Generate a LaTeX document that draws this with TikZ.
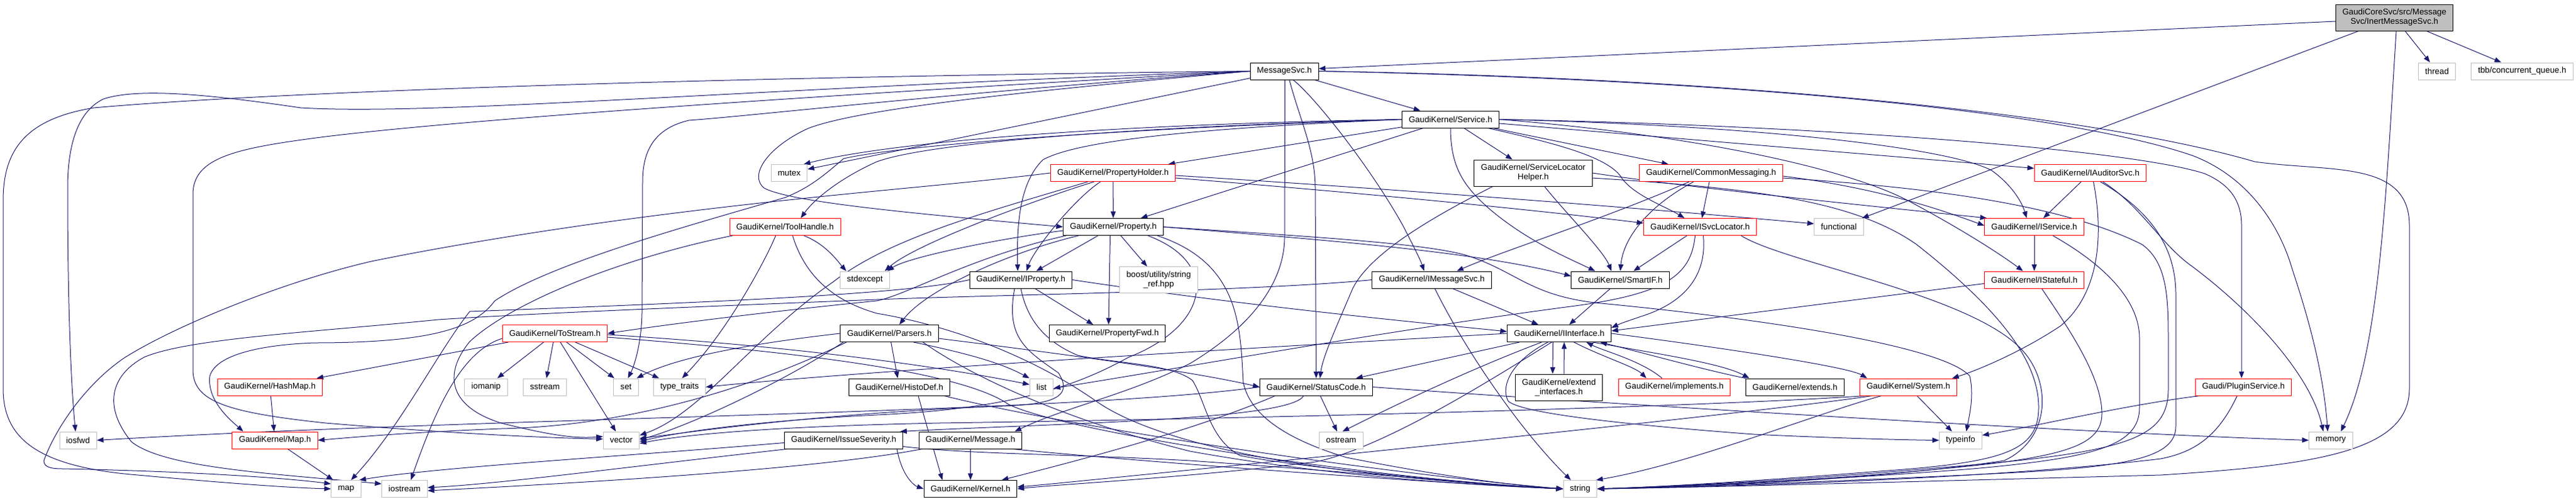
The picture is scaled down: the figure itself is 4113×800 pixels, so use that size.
\documentclass[tikz,border=0pt]{standalone}
\usepackage{fontspec}
\setmainfont{Liberation Sans}
\usetikzlibrary{arrows.meta,calc}
\definecolor{edgec}{HTML}{191970}
\definecolor{grayb}{HTML}{BFBFBF}
\pgfdeclarelayer{bg}
\pgfsetlayers{bg,main}
\begin{document}
\begin{tikzpicture}[x=0.75pt,y=-0.75pt,
  bx/.style={line width=0.75pt, fill=white, font=\fontsize{10}{11.25}\selectfont, inner xsep=8pt, inner ysep=1pt, minimum height=20.25pt, align=center},
  kbox/.style={bx,draw=black},
  rbox/.style={bx,draw=red},
  gbox/.style={bx,draw=grayb},
  rootbox/.style={bx,draw=black,fill=grayb},
  tall/.style={minimum height=31.5pt},
  e/.style={draw=edgec, line width=0.75pt, -{Triangle[length=8pt,width=6pt]}}]
\useasboundingbox (0,0) rectangle (4113,800);

\node[rootbox,tall] (I0) at (3823,28) {GaudiCoreSvc/src/Message\\Svc/InertMessageSvc.h};
\node[gbox] (thread) at (3891,113.5) {thread};
\node[gbox] (tbb) at (4027,113.5) {tbb/concurrent\_queue.h};
\node[kbox] (MS) at (2050.7,113.5) {MessageSvc.h};
\node[kbox] (SV) at (2316,190.5) {GaudiKernel/Service.h};
\node[rbox] (PH) at (1777,276) {GaudiKernel/PropertyHolder.h};
\node[kbox,tall] (SLH) at (2448,276) {GaudiKernel/ServiceLocator\\Helper.h};
\node[rbox] (CM) at (2732,276) {GaudiKernel/CommonMessaging.h};
\node[rbox] (IAS) at (3337.5,276) {GaudiKernel/IAuditorSvc.h};
\node[gbox] (mutex) at (1260,276) {mutex};
\node[rbox] (TH) at (1253.5,362) {GaudiKernel/ToolHandle.h};
\node[kbox] (PR) at (1777.5,362) {GaudiKernel/Property.h};
\node[rbox] (ISL) at (2714.5,362) {GaudiKernel/ISvcLocator.h};
\node[gbox] (functional) at (2936,362) {functional};
\node[rbox] (IS) at (3248,362) {GaudiKernel/IService.h};
\node[gbox] (stdexcept) at (1381,446.5) {stdexcept};
\node[kbox] (IP) at (1630,446.5) {GaudiKernel/IProperty.h};
\node[gbox,tall] (boost) at (1850,446.7) {boost/utility/string\\\_ref.hpp};
\node[kbox] (IMS) at (2286,446.5) {GaudiKernel/IMessageSvc.h};
\node[kbox] (SI) at (2587,446.5) {GaudiKernel/SmartIF.h};
\node[rbox] (IST) at (3248,446.5) {GaudiKernel/IStateful.h};
\node[rbox] (ToStream) at (886,532) {GaudiKernel/ToStream.h};
\node[kbox] (Parsers) at (1420,532) {GaudiKernel/Parsers.h};
\node[kbox] (PFwd) at (1768,532) {GaudiKernel/PropertyFwd.h};
\node[kbox] (II) at (2489.5,532) {GaudiKernel/IInterface.h};
\node[rbox] (HashMap) at (431,617.5) {GaudiKernel/HashMap.h};
\node[gbox] (iomanip) at (776,617.5) {iomanip};
\node[gbox] (sstream) at (870,617.5) {sstream};
\node[gbox] (set) at (999.5,617.5) {set};
\node[gbox] (typetraits) at (1085,617.5) {type\_traits};
\node[kbox] (HistoDef) at (1436,617.5) {GaudiKernel/HistoDef.h};
\node[gbox] (list) at (1663,617.5) {list};
\node[kbox] (SC) at (2101.5,617.5) {GaudiKernel/StatusCode.h};
\node[kbox,tall] (extI) at (2489,618) {GaudiKernel/extend\\\_interfaces.h};
\node[rbox] (impl) at (2673.5,617.5) {GaudiKernel/implements.h};
\node[kbox] (ext) at (2866,617.5) {GaudiKernel/extends.h};
\node[rbox] (System) at (3047,617.5) {GaudiKernel/System.h};
\node[rbox] (PS) at (3582,617.5) {Gaudi/PluginService.h};
\node[gbox] (iosfwd) at (124.6,702.5) {iosfwd};
\node[rbox] (MapH) at (439,702.5) {GaudiKernel/Map.h};
\node[gbox] (vector) at (992,702.5) {vector};
\node[kbox] (ISev) at (1347,702.5) {GaudiKernel/IssueSeverity.h};
\node[kbox] (Msg) at (1549.5,702.5) {GaudiKernel/Message.h};
\node[gbox] (ostream) at (2141.5,702.5) {ostream};
\node[gbox] (typeinfo) at (3130.5,702.5) {typeinfo};
\node[gbox] (memory) at (3721.5,702.5) {memory};
\node[gbox] (map) at (552.5,780) {map};
\node[gbox] (iostream) at (646,780) {iostream};
\node[kbox] (Kernel) at (1549.5,780) {GaudiKernel/Kernel.h};
\node[gbox] (string) at (2523,780) {string};

\begin{pgfonlayer}{bg}
% InertMessageSvc.h
\draw[e] ($(I0.west)+(0,6)$) -- ($(MS.east)+(0,-4)$);
\draw[e] (I0) -- (thread);
\draw[e] (I0) -- (tbb);
\draw[e] (I0) -- (functional);
\draw[e] ($(I0.south)+(3,0)$) .. controls (3810,300) and (3800,560) .. ($(memory.north)+(16,0)$);
% MessageSvc.h
\draw[e] (MS) -- (SV);
\draw[e] (MS.west) .. controls (1200,140) and (700,185) .. (480,172) .. controls (330,150) and (220,140) .. (165,158) .. controls (120,180) and (108,240) .. (108,300) .. controls (108,500) and (114,620) .. ($(iosfwd.north)+(-4,0)$);
\draw[e] (MS.west) .. controls (1000,125) and (400,150) .. (150,172) .. controls (40,190) and (5,240) .. (5,320) -- (5,620) .. controls (5,700) and (60,745) .. (220,758) .. controls (330,768) and (450,778) .. (map.west);
\draw[e] (MS.west) .. controls (1300,152) and (750,190) .. (520,218) .. controls (380,236) and (308,250) .. (308,310) -- (308,590) .. controls (308,640) and (360,658) .. (520,675) .. controls (700,690) and (850,698) .. ($(vector.west)+(0,-2)$);
\draw[e] (MS) -- (mutex);
\draw[e] (MS.west) .. controls (1500,150) and (1200,185) .. (1100,192) .. controls (1045,205) and (1026,240) .. (1026,290) -- (1025,500) .. controls (1024,550) and (1012,585) .. ($(set.north)+(3,0)$);
\draw[e] (MS.east) .. controls (2800,128) and (3300,180) .. (3500,248) .. controls (3590,282) and (3640,360) .. (3660,430) .. controls (3690,520) and (3710,600) .. ($(memory.north)+(-5,0)$);
\draw[e] (MS.east) .. controls (2800,125) and (3350,185) .. (3600,258) .. controls (3720,275) and (3847,255) .. (3847,360) -- (3847,620) .. controls (3847,720) and (3700,742) .. (3450,758) .. controls (3000,770) and (2700,778) .. (string.east);
\draw[e] ($(MS.south)+(14,0)$) .. controls (2100,155) and (2190,270) .. (2240,360) .. controls (2258,395) and (2268,415) .. ($(IMS.north)+(-12,0)$);
\draw[e] ($(MS.south)+(8,0)$) .. controls (2075,190) and (2100,240) .. (2100,300) -- (SC.north);
\draw[e] ($(MS.south)+(1,0)$) -- (2051,380) .. controls (2050,450) and (2000,520) .. (1900,580) .. controls (1800,630) and (1700,650) .. ($(Msg.north east)+(-12,0)$);
\draw[e] (MS.west) .. controls (1700,140) and (1380,170) .. (1290,205) .. controls (1225,235) and (1195,280) .. (1220,300) .. controls (1260,322) and (1450,340) .. (PR.west);
% Service.h
\draw[e] (SV) -- (PH);
\draw[e] (SV) -- (SLH);
\draw[e] (SV) -- (CM);
\draw[e] (SV) -- (IAS);
\draw[e] (SV.east) .. controls (2800,200) and (3110,235) .. (3180,272) .. controls (3212,295) and (3228,322) .. ($(IS.north)+(-12,0)$);
\draw[e] (SV.east) .. controls (2700,215) and (2950,268) .. (3050,322) .. controls (3140,370) and (3200,410) .. ($(IST.north)+(-18,0)$);
\draw[e] ($(SV.south)+(60,0)$) .. controls (2480,228) and (2570,250) .. (2590,285) .. controls (2610,312) and (2660,330) .. ($(ISL.north)+(-25,0)$);
\draw[e] (SV.south) .. controls (2316,270) and (2340,300) .. (2380,335) .. controls (2440,385) and (2500,410) .. ($(SI.north)+(-40,0)$);
\draw[e] (SV.west) .. controls (1900,205) and (1720,225) .. (1665,255) .. controls (1630,290) and (1623,350) .. ($(IP.north)+(-5,0)$);
\draw[e] (SV) -- (PR);
\draw[e] (SV.west) .. controls (1900,200) and (1500,222) .. (1400,258) .. controls (1340,285) and (1300,318) .. ($(TH.north)+(25,0)$);
\draw[e] (SV.west) .. controls (1700,200) and (1400,232) .. ($(mutex.north east)+(-6,0)$);
\draw[e] (SV.east) .. controls (2900,200) and (3400,238) .. (3520,277) .. controls (3562,295) and (3579,322) .. (3579,360) -- ($(PS.north)+(-3,0)$);
\draw[e] (SV.west) .. controls (1800,205) and (1450,230) .. (1347,253) .. controls (1310,285) and (1290,300) .. (1254,315) .. controls (1100,360) and (880,420) .. (790,480) .. controls (760,520) and (700,547) .. (502,547) .. controls (420,550) and (345,565) .. (335,600) .. controls (330,640) and (370,672) .. ($(MapH.north west)+(18,0)$);
% PropertyHolder.h
\draw[e] (PH) -- (PR);
\draw[e] ($(PH.south west)+(70,0)$) .. controls (1650,320) and (1460,390) .. ($(stdexcept.north east)+(-8,0)$);
\draw[e] ($(PH.south)+(-20,0)$) .. controls (1712,320) and (1650,400) .. ($(IP.north)+(9,0)$);
\draw[e] ($(PH.south west)+(60,0)$) .. controls (1570,340) and (1420,380) .. (1330,450) .. controls (1200,540) and (1120,660) .. ($(vector.east)+(0,-8)$);
\draw[e] ($(PH.east)+(0,4)$) .. controls (2200,300) and (2600,330) .. ($(functional.west)+(0,-5)$);
\draw[e] ($(PH.east)+(0,8)$) .. controls (2200,310) and (2450,335) .. ($(ISL.west)+(0,-6)$);
\draw[e] (PH.west) .. controls (1500,298) and (1300,310) .. (1000,350) .. controls (850,370) and (700,395) .. (593,417) .. controls (450,450) and (280,520) .. (200,570) .. controls (140,610) and (90,680) .. (70,735) .. controls (70,745) and (80,748) .. (100,748) .. controls (300,752) and (450,762) .. ($(map.west)+(0,-8)$);
% ServiceLocatorHelper.h
\draw[e] ($(SLH.south west)+(30,0)$) .. controls (2300,340) and (2190,400) .. (2160,460) .. controls (2130,530) and (2112,570) .. ($(SC.north)+(6,0)$);
\draw[e] ($(SLH.south)+(18,0)$) .. controls (2500,340) and (2560,400) .. ($(SI.north)+(-14,0)$);
\draw[e] (SLH.east) .. controls (2700,300) and (3000,330) .. ($(IS.north west)+(4,0)$);
\draw[e] ($(SLH.east)+(0,8)$) .. controls (2800,300) and (2960,320) .. (3060,390) .. controls (3200,500) and (3255,580) .. (3255,650) .. controls (3255,720) and (3200,738) .. (3000,752) .. controls (2800,768) and (2650,777) .. (string.east);
% CommonMessaging.h
\draw[e] (CM) -- (ISL);
\draw[e] ($(CM.south)+(-35,0)$) .. controls (2560,350) and (2400,400) .. ($(IMS.north)+(40,0)$);
\draw[e] ($(CM.south)+(-28,0)$) .. controls (2630,330) and (2592,380) .. (SI.north);
\draw[e] ($(CM.east)+(0,5)$) .. controls (3000,300) and (3100,335) .. ($(IS.west)+(0,-2)$);
\draw[e] ($(CM.east)+(0,8)$) .. controls (3100,300) and (3300,330) .. (3420,390) .. controls (3462,420) and (3462,480) .. (3462,550) -- (3462,620) .. controls (3462,700) and (3400,722) .. (3100,746) .. controls (2850,768) and (2650,777) .. (string.east);
% IAuditorSvc.h
\draw[e] (IAS) -- (IS);
\draw[e] ($(IAS.south)+(5,0)$) .. controls (3360,380) and (3350,470) .. (3290,520) .. controls (3230,560) and (3160,590) .. ($(System.north east)+(-8,0)$);
\draw[e] ($(IAS.south)+(20,0)$) .. controls (3420,330) and (3450,390) .. (3500,425) .. controls (3600,500) and (3690,600) .. ($(memory.north)+(-12,0)$);
\draw[e] ($(IAS.south)+(16,0)$) .. controls (3440,340) and (3474,400) .. (3474,470) -- (3474,680) .. controls (3474,730) and (3400,745) .. (3200,755) .. controls (2900,770) and (2650,778) .. (string.east);
% IService.h / IStateful.h
\draw[e] (IS) -- (IST);
\draw[e] ($(IS.south east)+(-50,0)$) .. controls (3320,400) and (3416,460) .. (3416,540) -- (3416,650) .. controls (3416,710) and (3350,730) .. (3150,748) .. controls (2900,768) and (2650,777) .. (string.east);
\draw[e] ($(IST.west)+(0,6)$) .. controls (2950,480) and (2750,505) .. ($(II.east)+(0,-4)$);
\draw[e] ($(IST.south)+(12,0)$) .. controls (3300,520) and (3356,600) .. (3356,660) .. controls (3356,710) and (3300,730) .. (3100,748) .. controls (2900,768) and (2650,777) .. (string.east);
% ISvcLocator.h
\draw[e] (ISL) -- (SI);
\draw[e] ($(ISL.south)+(5,0)$) .. controls (2725,430) and (2700,480) .. (2620,505) .. controls (2600,512) and (2590,515) .. ($(II.east)+(0,-9)$);
\draw[e] ($(ISL.south)+(-8,0)$) .. controls (2700,440) and (2660,470) .. (2500,490) .. controls (2200,530) and (1900,585) .. ($(list.east)+(0,2)$);
\draw[e] ($(ISL.south east)+(-25,0)$) .. controls (2850,420) and (3150,470) .. (3230,560) .. controls (3275,610) and (3275,700) .. (3200,735) .. controls (3000,765) and (2700,778) .. (string.east);
% IMessageSvc.h
\draw[e] (IMS) -- (II);
\draw[e] ($(IMS.south)+(5,0)$) .. controls (2340,560) and (2430,690) .. ($(string.north)+(-15,0)$);
\draw[e] (IMS.west) .. controls (2000,465) and (1600,470) .. (1400,478) .. controls (1100,490) and (850,500) .. (700,510) .. controls (500,530) and (300,540) .. (230,570) .. controls (175,600) and (165,650) .. (210,705) .. controls (260,745) and (420,755) .. ($(iostream.west)+(0,-8)$);
% SmartIF.h
\draw[e] (SI) -- (II);
% IProperty.h
\draw[e] (IP) -- (PFwd);
\draw[e] (IP.east) .. controls (2000,490) and (2300,518) .. ($(II.west)+(0,-3)$);
\draw[e] (IP.south) .. controls (1640,510) and (1668,545) .. (1721,567) .. controls (1780,580) and (1870,580) .. (1904,607) .. controls (1925,640) and (1930,700) .. (1980,727) .. controls (2100,750) and (2400,775) .. (string.west);
\draw[e] ($(IP.south)+(-10,0)$) .. controls (1605,540) and (1640,560) .. (1690,595) .. controls (1712,630) and (1690,645) .. (1600,648) .. controls (1300,660) and (1100,690) .. ($(vector.east)+(0,-3)$);
\draw[e] (IP.west) .. controls (1450,468) and (1200,480) .. (750,497) .. controls (700,560) and (640,680) .. ($(map.north)+(8,0)$);
% Property.h
\draw[e] ($(PR.west)+(0,6)$) .. controls (1600,380) and (1450,410) .. ($(stdexcept.north east)+(-4,0)$);
\draw[e] (PR) -- (IP);
\draw[e] (PR) -- (boost);
\draw[e] ($(PR.south)+(-5,0)$) -- ($(PFwd.north)+(2,0)$);
\draw[e] ($(PR.south west)+(25,0)$) .. controls (1620,400) and (1480,460) .. ($(Parsers.north)+(16,0)$);
\draw[e] ($(PR.south west)+(5,0)$) .. controls (1550,410) and (1450,470) .. (1400,480) .. controls (1200,500) and (1050,520) .. (ToStream.east);
\draw[e] ($(PR.south east)+(-25,0)$) .. controls (1950,420) and (1930,520) .. (1802,570) .. controls (1720,615) and (1620,652) .. (1400,662) .. controls (1200,672) and (1080,690) .. ($(vector.east)+(0,2)$);
\draw[e] ($(PR.south east)+(-10,0)$) .. controls (1980,420) and (1980,520) .. (1985,610) .. controls (1995,660) and (2050,700) .. (2150,730) .. controls (2300,760) and (2420,775) .. (string.west);
\draw[e] (PR.east) .. controls (2100,378) and (2270,388) .. (2340,407) .. controls (2420,432) and (2440,470) .. (2546,483) .. controls (2800,507) and (3100,550) .. (3145,600) .. controls (3152,630) and (3145,660) .. ($(typeinfo.north)+(9,0)$);
\draw[e] (PR.east) .. controls (2100,382) and (2350,400) .. ($(SI.west)+(0,-6)$);
% ToolHandle.h
\draw[e] ($(TH.south)+(-15,0)$) .. controls (1220,420) and (1160,530) .. ($(typetraits.north)+(4,0)$);
\draw[e] ($(TH.south)+(30,0)$) .. controls (1320,390) and (1340,420) .. ($(stdexcept.north west)+(10,0)$);
\draw[e] ($(TH.south west)+(5,0)$) .. controls (1000,410) and (820,480) .. (750,545) .. controls (705,600) and (720,650) .. (800,675) .. controls (880,695) and (920,700) .. ($(vector.west)+(0,-6)$);
\draw[e] ($(TH.south)+(12,0)$) .. controls (1285,440) and (1330,480) .. (1400,500) .. controls (1520,520) and (1650,570) .. (1750,640) .. controls (1850,710) and (2100,760) .. (string.west);
% ToStream.h
\draw[e] (ToStream) -- (iomanip);
\draw[e] (ToStream) -- (sstream);
\draw[e] (ToStream) -- (set);
\draw[e] (ToStream) -- (typetraits);
\draw[e] (ToStream) -- (vector);
\draw[e] (ToStream) -- (HashMap);
\draw[e] ($(ToStream.west)+(0,8)$) .. controls (740,560) and (700,640) .. ($(iostream.north)+(10,0)$);
\draw[e] ($(ToStream.east)+(0,2)$) .. controls (1200,548) and (1450,575) .. ($(list.west)+(0,-4)$);
\draw[e] ($(ToStream.east)+(0,6)$) .. controls (1250,560) and (1530,590) .. (1610,645) .. controls (1700,690) and (2200,765) .. (string.west);
% Parsers.h
\draw[e] (Parsers) -- (HistoDef);
\draw[e] ($(Parsers.south east)+(-40,0)$) .. controls (1550,565) and (1600,580) .. (list.north west);
\draw[e] (Parsers.west) .. controls (1200,548) and (1080,570) .. ($(set.north east)+(-3,0)$);
\draw[e] ($(Parsers.south west)+(5,0)$) .. controls (1250,610) and (1100,680) .. ($(vector.east)+(0,-1)$);
\draw[e] ($(Parsers.south east)+(-25,0)$) .. controls (1550,600) and (1700,670) .. (1900,720) .. controls (2150,765) and (2400,776) .. (string.west);
\draw[e] ($(Parsers.east)+(0,8)$) .. controls (1700,565) and (1900,592) .. (SC.west);
\draw[e] ($(Parsers.south west)+(10,0)$) .. controls (1200,620) and (1000,680) .. (800,684) .. controls (650,690) and (560,698) .. (MapH.east);
% HistoDef.h
\draw[e] ($(HistoDef.south)+(30,0)$) -- ($(Kernel.north west)+(30,0)$);
\draw[e] ($(HistoDef.south east)+(-10,0)$) .. controls (1700,680) and (2200,755) .. (string.west);
% HashMap.h / Map.h
\draw[e] (HashMap) -- (MapH);
\draw[e] (MapH) -- (map);
% IssueSeverity.h
\draw[e] ($(ISev.west)+(0,4)$) .. controls (1000,728) and (700,745) .. ($(map.north east)+(-3,0)$);
\draw[e] ($(ISev.south west)+(5,0)$) .. controls (1000,745) and (800,772) .. ($(iostream.east)+(0,-2)$);
\draw[e] ($(ISev.east)+(0,10)$) .. controls (1550,725) and (1700,724) .. (1900,735) .. controls (2200,756) and (2400,776) .. (string.west);
\draw[e] ($(ISev.south east)+(-10,0)$) .. controls (1440,760) and (1460,775) .. (Kernel.west);
% Message.h
\draw[e] (Msg) -- (Kernel);
\draw[e] ($(Msg.south west)+(5,0)$) .. controls (1300,750) and (900,772) .. ($(iostream.east)+(0,3)$);
\draw[e] ($(Msg.south east)+(-15,0)$) .. controls (1800,735) and (2300,772) .. (string.west);
% StatusCode.h
\draw[e] (SC) -- (ostream);
\draw[e] ($(SC.south west)+(25,0)$) .. controls (1900,690) and (1700,740) .. ($(Kernel.north east)+(-25,0)$);
\draw[e] ($(SC.south)+(-20,0)$) .. controls (2060,670) and (1700,675) .. ($(ISev.north east)+(-5,0)$);
\draw[e] (SC.east) .. controls (2500,640) and (3300,690) .. (memory.west);
\draw[e] (SC.west) .. controls (1700,660) and (800,665) .. (iosfwd.east);
% IInterface.h
\draw[e] (II) -- (SC);
\draw[e] ($(II.south)+(-28,0)$) .. controls (2350,588) and (2230,645) .. ($(ostream.north)+(2,0)$);
\draw[e] ($(II.south)+(-18,0)$) .. controls (2415,575) and (2395,615) .. (2408,640) .. controls (2430,660) and (2600,678) .. (2800,693) .. controls (2950,700) and (3050,702) .. (typeinfo.west);
\draw[e] ($(II.south)+(-12,0)$) .. controls (2390,600) and (2210,715) .. (2100,737) .. controls (1900,762) and (1700,772) .. (Kernel.east);
\draw[e] (II.west) .. controls (2000,555) and (1400,590) .. (typetraits.east);
\draw[e] ($(II.south)+(-10,0)$) -- ($(extI.north)+(-10,0)$);
\draw[e] ($(extI.north)+(8,0)$) -- ($(II.south)+(8,0)$);
\draw[e] ($(II.south east)+(-60,0)$) .. controls (2560,570) and (2610,585) .. ($(impl.north west)+(45,0)$);
\draw[e] ($(impl.north west)+(70,0)$) .. controls (2620,575) and (2560,560) .. ($(II.south east)+(-40,0)$);
\draw[e] ($(II.south east)+(-30,0)$) .. controls (2650,565) and (2750,580) .. ($(ext.north west)+(6,0)$);
\draw[e] (ext.north west) .. controls (2720,590) and (2620,562) .. ($(II.south east)+(-18,0)$);
\draw[e] (II.east) .. controls (2750,555) and (2950,585) .. ($(System.north west)+(12,0)$);
% System.h
\draw[e] (System) -- (typeinfo);
\draw[e] ($(System.south west)+(35,0)$) .. controls (2900,660) and (2700,740) .. ($(string.north east)+(-2,0)$);
\draw[e] ($(System.south west)+(20,0)$) .. controls (2800,660) and (2000,740) .. (1800,760) .. controls (1700,770) and (1650,775) .. ($(Kernel.east)+(0,-3)$);
\draw[e] ($(System.south west)+(10,0)$) .. controls (2700,650) and (2000,668) .. (1500,675) .. controls (1250,680) and (1100,692) .. ($(vector.east)+(0,5)$);
% PluginService.h
\draw[e] ($(PS.south west)+(8,0)$) .. controls (3400,645) and (3250,680) .. ($(typeinfo.east)+(0,-8)$);
\draw[e] ($(PS.south)+(-10,0)$) .. controls (3540,700) and (3500,722) .. (3450,732) .. controls (3200,762) and (2800,776) .. (string.east);
\end{pgfonlayer}
\end{tikzpicture}
\end{document}
